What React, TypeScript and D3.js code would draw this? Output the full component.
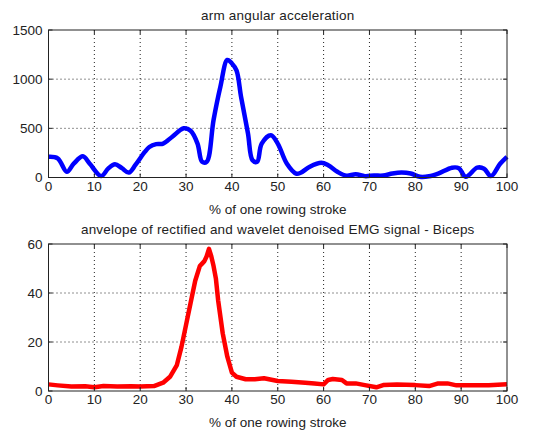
import React from "react";
import * as d3 from "d3";

const accX = [0, 2, 4, 5.5, 7.5, 9, 11.5, 13, 14.5, 16, 17.5, 19, 21, 22, 23.5, 25, 27, 29.5, 31, 32.5, 33.5, 34.5, 36, 37.5, 39, 40, 41, 42, 43.5, 44.5, 45.5, 46.5, 48.5, 50, 52, 54, 55, 57, 59.5, 61, 63, 65, 67, 69, 71, 73, 75, 77, 79, 81, 83, 85, 88, 89.5, 91, 93.5, 95, 96.5, 98.5, 100];
const accY = [210, 195, 58, 140, 215, 140, 14, 90, 135, 95, 50, 130, 260, 310, 340, 345, 415, 500, 475, 345, 160, 160, 585, 925, 1195, 1160, 1090, 820, 450, 175, 160, 345, 430, 345, 140, 40, 48, 110, 150, 125, 58, 17, 34, 14, 20, 20, 40, 50, 40, 7, 12, 40, 100, 95, 7, 100, 90, 14, 140, 210];

const emgX = [0, 2, 5, 8, 10, 12, 15, 18, 20, 23, 25, 26.5, 28, 29, 30, 31, 32, 33, 33.5, 34, 34.5, 35, 35.5, 36, 36.5, 37, 38, 39, 40, 41, 43, 45, 47, 50, 53, 56, 58, 60, 61, 62, 64, 65, 67, 69, 71.5, 73, 76, 80, 83, 85, 87, 89, 92, 96, 100];
const emgY = [2.7, 2.3, 1.8, 1.9, 1.5, 2.0, 1.8, 1.9, 1.8, 2.0, 3.4, 5.8, 10.6, 18, 27, 36, 45, 51, 52, 53, 55, 58, 55, 51, 46, 37, 23.5, 14, 7.5, 5.8, 4.8, 4.8, 5.2, 4.1, 3.8, 3.4, 3.1, 2.7, 4.5, 4.9, 4.5, 3.1, 3.1, 2.4, 1.5, 2.4, 2.7, 2.4, 2.0, 3.1, 3.1, 2.3, 2.3, 2.3, 2.8];

const xTicks = [0, 10, 20, 30, 40, 50, 60, 70, 80, 90, 100];
const accTicks = [0, 500, 1000, 1500];
const emgTicks = [0, 20, 40, 60];

const titles = ["arm angular acceleration", "anvelope of rectified and wavelet denoised EMG signal - Biceps"];
const xLabel = "% of one rowing stroke";

const L = 48.5, R = 507;
const FONT = "Liberation Sans, Arial, sans-serif";

function Panel({ top, bottom, yMax, yTicks, xs, ys, color, title, smooth, titleSpacing }: any) {
  const x = d3.scaleLinear().domain([0, 100]).range([L, R]);
  const y = d3.scaleLinear().domain([0, yMax]).range([bottom, top]);
  const line = d3
    .line<number>()
    .x((_, i) => x(xs[i]))
    .y((d) => y(d))
    .curve(smooth ? d3.curveCatmullRom.alpha(0.5) : d3.curveLinear);
  const tl = 4;
  return (
    <g>
      <text x={(L + R) / 2} y={top - 10} textAnchor="middle" fontSize={13.5} letterSpacing={titleSpacing} fontFamily={FONT} fill="#222">
        {title}
      </text>
      {xTicks.slice(1, -1).map((t) => (
        <line key={"gx" + t} x1={x(t)} x2={x(t)} y1={top} y2={bottom} stroke="#222" strokeWidth={1} strokeDasharray="1,3" />
      ))}
      {yTicks.slice(1, -1).map((t: number) => (
        <line key={"gy" + t} x1={L} x2={R} y1={y(t)} y2={y(t)} stroke="#222" strokeWidth={1} strokeDasharray="1,3" />
      ))}
      <path d={line(ys) || ""} fill="none" stroke={color} strokeWidth={4.5} strokeLinejoin="round" />
      <rect x={L} y={top} width={R - L} height={bottom - top} fill="none" stroke="#222" strokeWidth={1} />
      {xTicks.map((t) => (
        <g key={"tx" + t}>
          <line x1={x(t)} x2={x(t)} y1={bottom} y2={bottom - tl} stroke="#222" />
          <line x1={x(t)} x2={x(t)} y1={top} y2={top + tl} stroke="#222" />
          <text x={x(t)} y={bottom + 13} textAnchor="middle" fontSize={13.5} fontFamily={FONT} fill="#222">
            {t}
          </text>
        </g>
      ))}
      {yTicks.map((t: number) => (
        <g key={"ty" + t}>
          <line x1={L} x2={L + tl} y1={y(t)} y2={y(t)} stroke="#222" />
          <line x1={R} x2={R - tl} y1={y(t)} y2={y(t)} stroke="#222" />
          <text x={L - 6} y={y(t) + 4.5} textAnchor="end" fontSize={13.5} fontFamily={FONT} fill="#222">
            {t}
          </text>
        </g>
      ))}
      <text x={(L + R) / 2} y={bottom + 36} textAnchor="middle" fontSize={13.5} fontFamily={FONT} fill="#222">
        {xLabel}
      </text>
    </g>
  );
}

export default function App() {
  return (
    <svg width={533} height={431} style={{ position: "absolute", left: 0, top: 0, background: "#fff" }}>
      <rect x={0} y={0} width={533} height={431} fill="#fff" />
      <Panel top={30} bottom={177.5} yMax={1500} yTicks={accTicks} xs={accX} ys={accY} color="#0000ff" title={titles[0]} smooth titleSpacing={0.2} />
      <Panel top={244} bottom={391} yMax={60} yTicks={emgTicks} xs={emgX} ys={emgY} color="#ff0000" title={titles[1]} smooth={false} titleSpacing={0.2} />
    </svg>
  );
}
